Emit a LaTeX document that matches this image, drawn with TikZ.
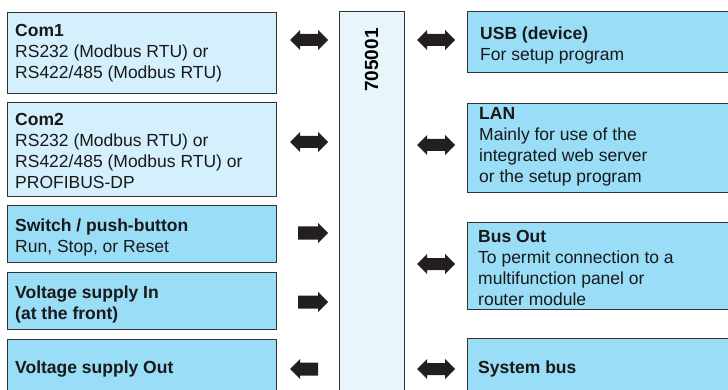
\documentclass[tikz,border=0pt]{standalone}
\usepackage{fontspec}
\setmainfont{Liberation Sans}
\definecolor{boxlight}{RGB}{212,240,252}
\definecolor{boxdark}{RGB}{153,221,247}
\definecolor{corefill}{RGB}{232,246,252}
\definecolor{edgec}{RGB}{50,50,50}
\definecolor{arrowc}{RGB}{35,31,32}
\newcommand\lbl{\fontsize{17.5}{21}\selectfont}
\newcommand\DblArrow[3]{\fill[arrowc] (#1,#3) -- (#1+10,#3-10) -- (#1+10,#3-6) -- (#2-10,#3-6) -- (#2-10,#3-10) -- (#2,#3) -- (#2-10,#3+10) -- (#2-10,#3+6) -- (#1+10,#3+6) -- (#1+10,#3+10) -- cycle;}
\newcommand\RArrow[3]{\fill[arrowc] (#1,#3-6.5) -- (#2-10,#3-6.5) -- (#2-10,#3-10) -- (#2,#3) -- (#2-10,#3+10) -- (#2-10,#3+6.5) -- (#1,#3+6.5) -- cycle;}
\newcommand\LArrow[3]{\fill[arrowc] (#2,#3-6.5) -- (#1+10,#3-6.5) -- (#1+10,#3-10) -- (#1,#3) -- (#1+10,#3+10) -- (#1+10,#3+6.5) -- (#2,#3+6.5) -- cycle;}
\begin{document}
\begin{tikzpicture}[x=1pt,y=-1pt,
  panel/.style={draw=edgec, line width=1.2pt, rectangle, inner sep=0pt, anchor=north west},
  lightpanel/.style={panel, fill=boxlight},
  darkpanel/.style={panel, fill=boxdark},
  txt/.style={anchor=base west, inner sep=0pt, font=\lbl, text=black!90}]
\useasboundingbox (0,0) rectangle (728,390);
\clip (0,0) rectangle (728,390);
% left boxes
\node[lightpanel, minimum width=269pt, minimum height=81pt] (com1) at (7,12) {};
\node[lightpanel, minimum width=269pt, minimum height=94pt] (com2) at (7,102) {};
\node[darkpanel, minimum width=269pt, minimum height=57pt] (sw) at (7,205) {};
\node[darkpanel, minimum width=269pt, minimum height=57pt] (vin) at (7,272) {};
\node[darkpanel, minimum width=269pt, minimum height=70pt] (vout) at (7,339) {};
% centre
\node[panel, fill=corefill, minimum width=65pt, minimum height=400pt] (core) at (339,11) {};
\node[anchor=base, rotate=90, inner sep=0pt, font=\fontsize{19}{22}\selectfont\bfseries] (coret) at (378,60) {705001};
% right boxes
\node[darkpanel, minimum width=280pt, minimum height=61pt] (usb) at (467,11) {};
\node[darkpanel, minimum width=280pt, minimum height=89pt] (lan) at (467,103) {};
\node[darkpanel, minimum width=280pt, minimum height=87pt] (bus) at (467,222) {};
\node[darkpanel, minimum width=280pt, minimum height=70pt] (sys) at (467,338) {};
% texts
\node[txt] (com1t) at (15,37) {\begin{tabular}[t]{@{}l@{}}\textbf{Com1}\\RS232 (Modbus RTU) or\\RS422/485 (Modbus RTU)\end{tabular}};
\node[txt] (com2t) at (15,126) {\begin{tabular}[t]{@{}l@{}}\textbf{Com2}\\RS232 (Modbus RTU) or\\RS422/485 (Modbus RTU) or\\PROFIBUS-DP\end{tabular}};
\node[txt] (swt) at (15,231) {\begin{tabular}[t]{@{}l@{}}\textbf{Switch / push-button}\\Run, Stop, or Reset\end{tabular}};
\node[txt] (vint) at (15,298) {\begin{tabular}[t]{@{}l@{}}\textbf{Voltage supply In}\\\textbf{(at the front)}\end{tabular}};
\node[txt] (voutt) at (15,373) {\textbf{Voltage supply Out}};
\node[txt] (usbt) at (480,40) {\begin{tabular}[t]{@{}l@{}}\textbf{USB (device)}\\For setup program\end{tabular}};
\node[txt] (lant) at (479,120) {\begin{tabular}[t]{@{}l@{}}\textbf{LAN}\\Mainly for use of the\\integrated web server\\or the setup program\end{tabular}};
\node[txt] (bust) at (478,242) {\begin{tabular}[t]{@{}l@{}}\textbf{Bus Out}\\To permit connection to a\\multifunction panel or\\router module\end{tabular}};
\node[txt] (syst) at (478,373) {\textbf{System bus}};
% arrows
\DblArrow{290}{328}{40}
\DblArrow{290}{328}{142}
\RArrow{298}{328}{233}
\RArrow{298}{328}{302}
\LArrow{290}{318}{369}
\DblArrow{417}{455}{40}
\DblArrow{417}{455}{145}
\DblArrow{417}{455}{264}
\DblArrow{417}{455}{369}
\end{tikzpicture}
\end{document}
